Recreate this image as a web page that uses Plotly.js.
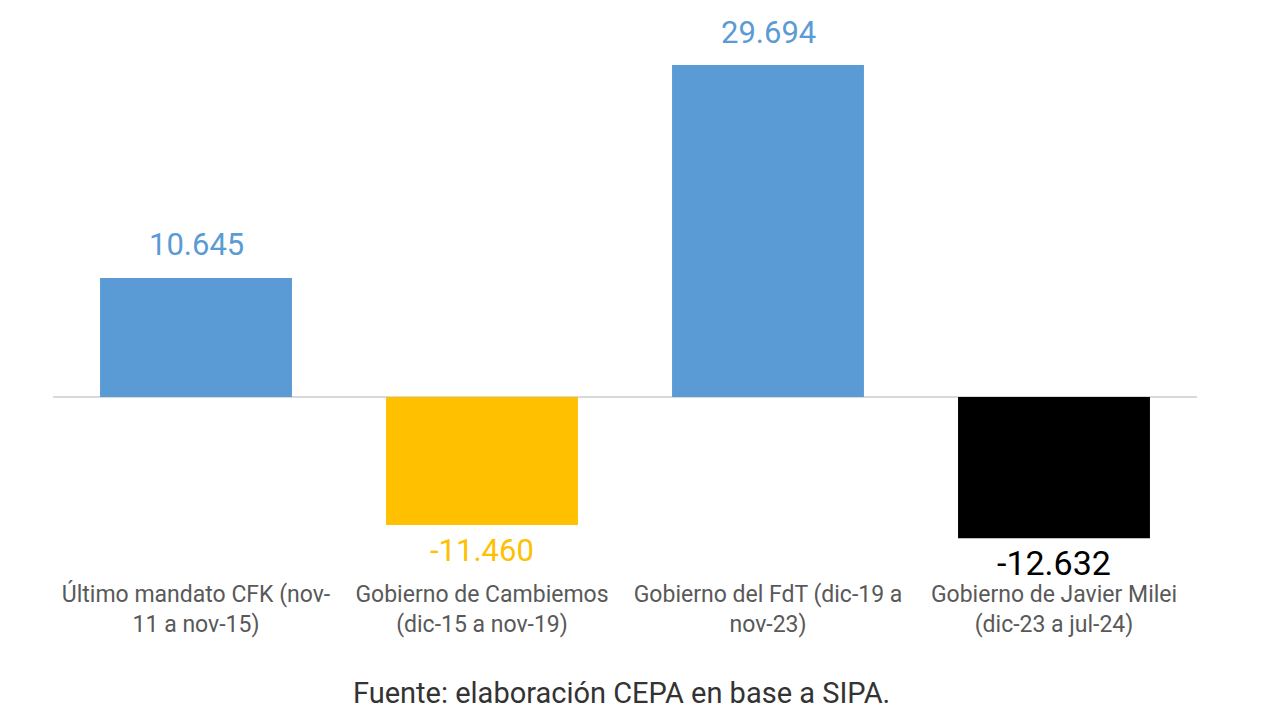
<!DOCTYPE html>
<html>
<head>
<meta charset="utf-8">
<script src="https://cdn.plot.ly/plotly-3.0.1.min.js"></script>
<style>html,body{margin:0;padding:0;background:#fff;}#chart{width:1280px;height:716px;}</style>
</head>
<body>
<div id="chart"></div>
<script>
const categories = ["cfk", "cambiemos", "fdt", "milei"];
const tickLabels = [
  "Último mandato CFK (nov-<br>11 a nov-15)",
  "Gobierno de Cambiemos<br>(dic-15 a nov-19)",
  "Gobierno del FdT (dic-19 a<br>nov-23)",
  "Gobierno de Javier Milei<br>(dic-23 a jul-24)"
];
const values = [10645, -11460, 29694, -12632];
const barColors = ["#5b9bd5", "#ffc000", "#5b9bd5", "#000000"];
const labelColors = ["#5b9bd5", "#ffc000", "#5b9bd5", "#000000"];
const labelSizes = [31, 31, 31, 34];
const sourceText = "Fuente: elaboración CEPA en base a SIPA.";

function fmt(v) {
  const s = Math.abs(v).toString().replace(/\B(?=(\d{3})+(?!\d))/g, ".");
  return (v < 0 ? "-" : "") + s;
}

const annotations = values.map((v, i) => ({
  x: categories[i], y: v, xref: "x", yref: "y",
  text: fmt(v), showarrow: false,
  yanchor: "middle", yshift: v >= 0 ? 33 : -25,
  font: {family: "Roboto, Arial, sans-serif", size: labelSizes[i], color: labelColors[i]}
}));
annotations.push({
  x: 0.497, y: -0.206, xref: "paper", yref: "paper",
  text: sourceText, showarrow: false, yanchor: "middle",
  font: {family: "Roboto, Arial, sans-serif", size: 29, color: "#333333"}
});

const trace = {
  type: "bar",
  x: categories,
  y: values,
  marker: {color: barColors},
  hoverinfo: "none"
};

const layout = {
  width: 1280, height: 716,
  margin: {l: 53, r: 83, t: 20, b: 138},
  paper_bgcolor: "#ffffff", plot_bgcolor: "#ffffff",
  bargap: 0.329,
  showlegend: false,
  xaxis: {
    tickmode: "array", tickvals: categories, ticktext: tickLabels,
    showgrid: false, showline: false, ticks: "",
    tickfont: {family: "Roboto, Arial, sans-serif", size: 23, color: "#595959"}
  },
  yaxis: {
    range: [-16190, 33720],
    showgrid: false, showticklabels: false, ticks: "",
    zeroline: true, zerolinecolor: "#d9d9d9", zerolinewidth: 2
  },
  annotations: annotations
};

Plotly.newPlot("chart", [trace], layout, {displayModeBar: false, staticPlot: true});
</script>
</body>
</html>
